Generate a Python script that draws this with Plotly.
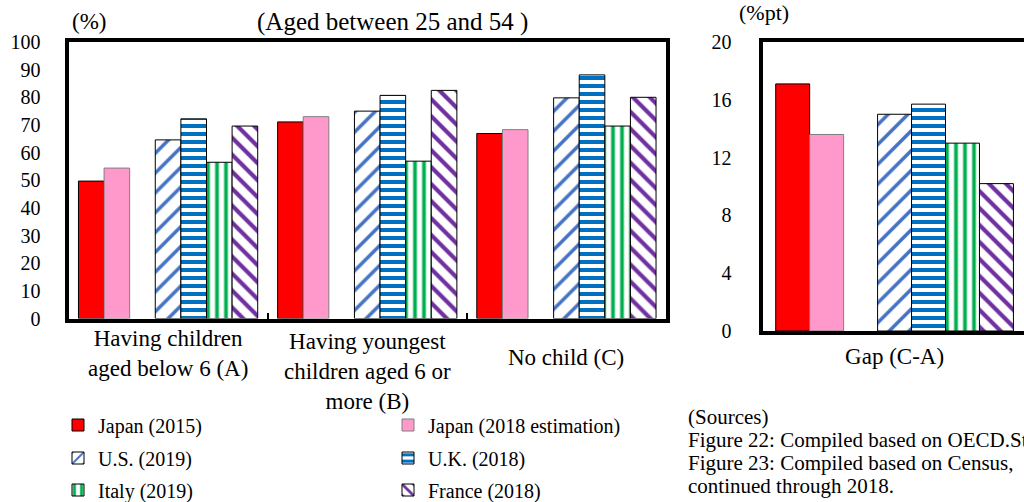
import plotly.graph_objects as go

# ---- data -------------------------------------------------------------
categories = ["Having children<br>aged below 6 (A)",
              "Having youngest<br>children aged 6 or<br>more (B)",
              "No child (C)"]
gap_categories = ["Gap (C-A)"]

series_names = ["Japan (2015)", "Japan (2018 estimation)", "U.S. (2019)",
                "U.K. (2018)", "Italy (2019)", "France (2018)"]

japan_2015 = [49.7, 71.1, 66.9]
japan_2018 = [54.4, 73.0, 68.3]
us_2019 = [64.6, 75.0, 79.8]
uk_2018 = [72.2, 80.7, 88.1]
italy_2019 = [56.5, 56.9, 69.6]
france_2018 = [69.6, 82.5, 80.0]

# employment-rate gap between "no child" and "children below 6", %pt
gap_c_minus_a = [17.1, 13.6, 15.0, 15.7, 13.0, 10.2]

left_ticks = list(range(0, 101, 10))
right_ticks = list(range(0, 21, 4))

# ---- styling ------------------------------------------------------------
W, H = 1024, 502
FONT = "Liberation Serif, Times New Roman, serif"


def stripes(shape, color, size, solidity):
    return dict(shape=shape, fgcolor=color, bgcolor="white", fgopacity=1,
                size=size, solidity=solidity, fillmode="replace")


styles = [
    dict(color="#FF0000", line="#000000", pattern=None),
    dict(color="#FF99CC", line="#7F7F7F", pattern=None),
    dict(color="#4472C4", line="#000000", pattern=stripes("/", "#4472C4", 14, 0.25)),
    dict(color="#0070C0", line="#000000", pattern=stripes("-", "#0070C0", 8, 0.5)),
    dict(color="#00B050", line="#000000", pattern=stripes("|", "#00B050", 9, 0.42)),
    dict(color="#7030A0", line="#000000", pattern=stripes("\\", "#7030A0", 12, 0.35)),
]
# slot index inside each category (slot 2 is left empty)
slots = [0, 1, 3, 4, 5, 6]
n_slots = 7
group_span = 0.9
bar_w = group_span / n_slots
legend_of = ["legend", "legend", "legend2", "legend2", "legend3", "legend3"]

left_values = [japan_2015, japan_2018, us_2019, uk_2018, italy_2019, france_2018]


def marker_for(st):
    m = dict(color=st["color"], line=dict(color=st["line"], width=1))
    if st["pattern"] is not None:
        m["pattern"] = st["pattern"]
    return m


fig = go.Figure()

for name, vals, st, slot, lg in zip(series_names, left_values, styles, slots, legend_of):
    fig.add_trace(go.Bar(
        x=list(range(len(categories))), y=vals, name=name,
        width=bar_w, offset=-group_span / 2 + slot * bar_w,
        marker=marker_for(st), legend=lg,
        xaxis="x", yaxis="y",
    ))

for name, val, st, slot in zip(series_names, gap_c_minus_a, styles, slots):
    fig.add_trace(go.Bar(
        x=[0], y=[val], name=name, showlegend=False,
        width=bar_w, offset=-group_span / 2 + slot * bar_w,
        marker=marker_for(st),
        xaxis="x2", yaxis="y2",
    ))

# plot-area edges in pixels
L1, R1, T1, B1 = 68.5, 666.0, 42.0, 318.5
L2, T2, B2 = 762.5, 42.0, 331.0

axis_common = dict(showline=True, linecolor="black", linewidth=4,
                   showgrid=False, zeroline=False, automargin=False)

fig.update_layout(
    width=W, height=H, autosize=False,
    margin=dict(l=0, r=0, t=0, b=0, autoexpand=False),
    paper_bgcolor="white", plot_bgcolor="white",
    barmode="overlay",
    font=dict(family=FONT, color="black", size=20),
    xaxis=dict(domain=[L1 / W, R1 / W], type="linear",
               range=[-0.5, len(categories) - 0.5],
               tickvals=[0.5, 1.5], ticktext=["", ""],
               ticks="inside", ticklen=6, tickwidth=1.5, tickcolor="black",
               showticklabels=False, mirror=True, **axis_common),
    yaxis=dict(domain=[1 - B1 / H, 1 - T1 / H], range=[0, 100],
               tickvals=left_ticks, ticks="", ticklabelstandoff=20,
               tickfont=dict(size=20), mirror=True, **axis_common),
    xaxis2=dict(domain=[L2 / W, 1.0], type="linear",
                range=[-0.5, 0.49], tickvals=[0], ticktext=gap_categories,
                ticks="", ticklabelstandoff=1, tickfont=dict(size=23),
                mirror=True, anchor="y2", **axis_common),
    yaxis2=dict(domain=[1 - B2 / H, 1 - T2 / H], range=[0, 20],
                tickvals=right_ticks, ticks="", ticklabelstandoff=23,
                tickfont=dict(size=20), mirror=False, anchor="x2", **axis_common),
)

# legends: three rows of two entries
legend_rows_y = [425, 458, 490]
for key, yy in zip(["legend", "legend2", "legend3"], legend_rows_y):
    fig.update_layout({key: dict(
        orientation="h", x=58 / W, xanchor="left", y=1 - yy / H, yanchor="middle",
        entrywidth=285, entrywidthmode="pixels", bgcolor="rgba(0,0,0,0)",
        font=dict(family=FONT, size=20), itemclick=False, itemdoubleclick=False,
    )})

# category labels of the left panel
cat_label_y = [353, 371, 357]
for i, (lab, yy) in enumerate(zip(categories, cat_label_y)):
    fig.add_annotation(x=i, y=1 - yy / H, xref="x", yref="paper", text=lab,
                       showarrow=False, xanchor="center", yanchor="middle",
                       font=dict(size=23))

texts = [
    dict(text="(%)", x=89, y=22, size=23, anchor="center"),
    dict(text="(Aged between 25 and 54 )", x=392, y=22, size=25, anchor="center"),
    dict(text="(%pt)", x=764, y=13, size=22, anchor="center"),
    dict(text="(Sources)", x=686, y=417, size=21, anchor="left"),
    dict(text="Figure 22: Compiled based on OECD.Stat", x=686, y=440, size=21, anchor="left"),
    dict(text="Figure 23: Compiled based on Census,", x=686, y=463, size=21, anchor="left"),
    dict(text="continued through 2018.", x=686, y=486, size=21, anchor="left"),
]
for t in texts:
    fig.add_annotation(x=t["x"] / W, y=1 - t["y"] / H, xref="paper", yref="paper",
                       text=t["text"], showarrow=False, xanchor=t["anchor"],
                       yanchor="middle", font=dict(size=t["size"]))

fig.write_html("out.html")
